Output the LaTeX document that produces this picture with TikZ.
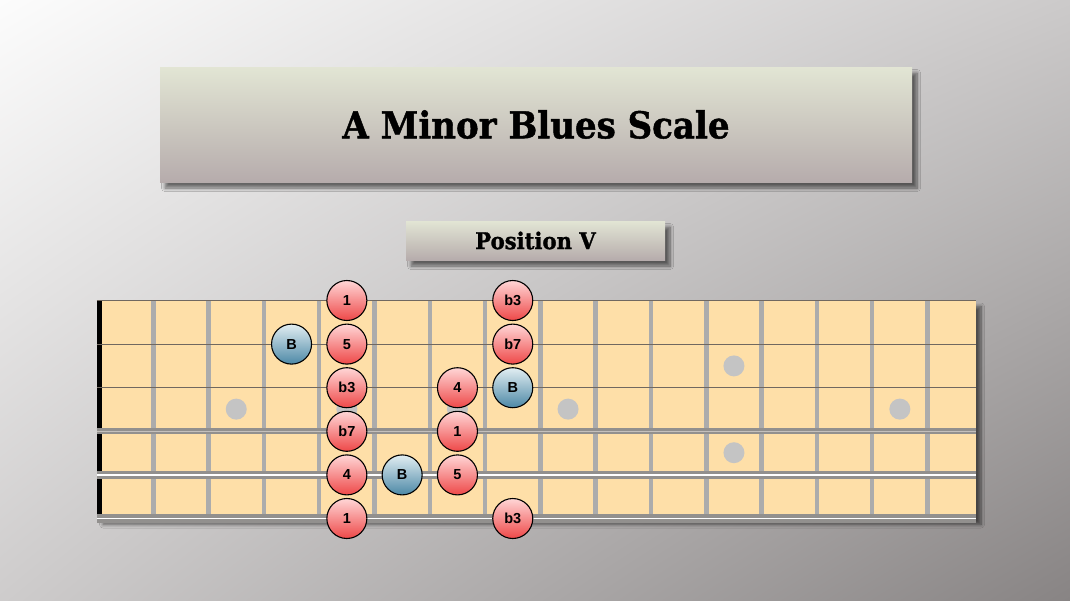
\documentclass[tikz,border=0pt]{standalone}
\usepackage{fontspec}
\usetikzlibrary{shadings,shadows.blur}
\newfontfamily\titlefont{DejaVu Serif}[FakeStretch=0.92, BoldFeatures={FakeBold=1.2}]
\newfontfamily\notefont{Liberation Sans}

\definecolor{bgtl}{RGB}{252,252,252}
\definecolor{bgtr}{RGB}{204,202,202}
\definecolor{bgbl}{RGB}{206,204,204}
\definecolor{bgbr}{RGB}{136,132,132}
\definecolor{boxtop}{RGB}{226,229,212}
\definecolor{boxbot}{RGB}{182,172,172}
\definecolor{boardfill}{RGB}{254,223,168}
\definecolor{fretgray}{RGB}{172,172,172}
\definecolor{dotgray}{RGB}{196,196,196}
\definecolor{stringgray}{RGB}{112,104,96}
\definecolor{woundgray}{RGB}{146,144,142}
\definecolor{redtop}{RGB}{255,214,214}
\definecolor{redbot}{RGB}{238,72,72}
\definecolor{bluetop}{RGB}{226,238,242}
\definecolor{bluebot}{RGB}{76,136,166}

\tikzset{
	softshadow/.style={blur shadow={shadow xshift=5pt, shadow yshift=-6pt, shadow blur radius=3.5pt,
		shadow blur steps=8, shadow opacity=55}},
	banner/.style={top color=boxtop, bottom color=boxbot, softshadow},
	note/.style={circle, draw=black, line width=1.1pt, minimum size=40pt, inner sep=0pt,
		font=\notefont\bfseries\fontsize{14.5}{14.5}\selectfont},
	rednote/.style={note, top color=redtop, bottom color=redbot},
	bluenote/.style={note, top color=bluetop, bottom color=bluebot},
	fret/.style={fretgray, line width=4.5pt},
	plainstring/.style={stringgray, line width=1.2pt},
	woundstring/.style={woundgray, line width=3.6pt, double=white, double distance=1.4pt},
}

\begin{document}
\begin{tikzpicture}[x=1pt, y=-1pt]
	\useasboundingbox (0,0) rectangle (1070,600);
	\shade[upper left=bgtl, upper right=bgtr, lower left=bgbl, lower right=bgbr] (0,0) rectangle (1070,600);

	\node[banner, minimum width=752pt, minimum height=115pt] (title) at (536,124.5)
		{\titlefont\bfseries\fontsize{37}{40}\selectfont A Minor Blues Scale};
	\node[banner, minimum width=259pt, minimum height=39pt] (pos) at (535.5,240.5)
		{\titlefont\bfseries\fontsize{23}{25}\selectfont Position V};

	% fretboard
	\fill[boardfill, softshadow] (98,300.5) rectangle (976,518.5);

	\foreach \f in {3,5,7,9,15}
	\fill[dotgray] ({98+55.3*(\f-0.5)},409.1) circle (10.5pt);
	\foreach \y in {365.9,452.7}
	\fill[dotgray] ({98+55.3*11.5},\y) circle (10.5pt);

	\foreach \f in {1,...,15}
	\draw[fret] ({98+55.3*\f},300.5) -- ({98+55.3*\f},518.5);

	\fill[black] (96.5,300.5) rectangle (101.8,518.5);

	\foreach \y in {300.5,344.1,387.7}
	\draw[plainstring] (96.5,\y) -- (976,\y);
	\draw[woundgray, line width=2.6pt, double={rgb,255:red,196;green,192;blue,188}, double distance=0.6pt]
		(96.5,431.3) -- (976,431.3);
	\foreach \y in {474.9,518.5}
	\draw[woundstring] (96.5,\y) -- (976,\y);

	% notes: string/fret/label/style
	\foreach \s/\f/\t/\k in {1/5/1/rednote, 1/8/b3/rednote,
		2/4/B/bluenote, 2/5/5/rednote, 2/8/b7/rednote,
		3/5/b3/rednote, 3/7/4/rednote, 3/8/B/bluenote,
		4/5/b7/rednote, 4/7/1/rednote,
		5/5/4/rednote, 5/6/B/bluenote, 5/7/5/rednote,
		6/5/1/rednote, 6/8/b3/rednote}
	\node[\k] (s\s-\f) at ({98+55.3*(\f-0.5)},{300.5+43.6*(\s-1)}) {\t};
\end{tikzpicture}
\end{document}
